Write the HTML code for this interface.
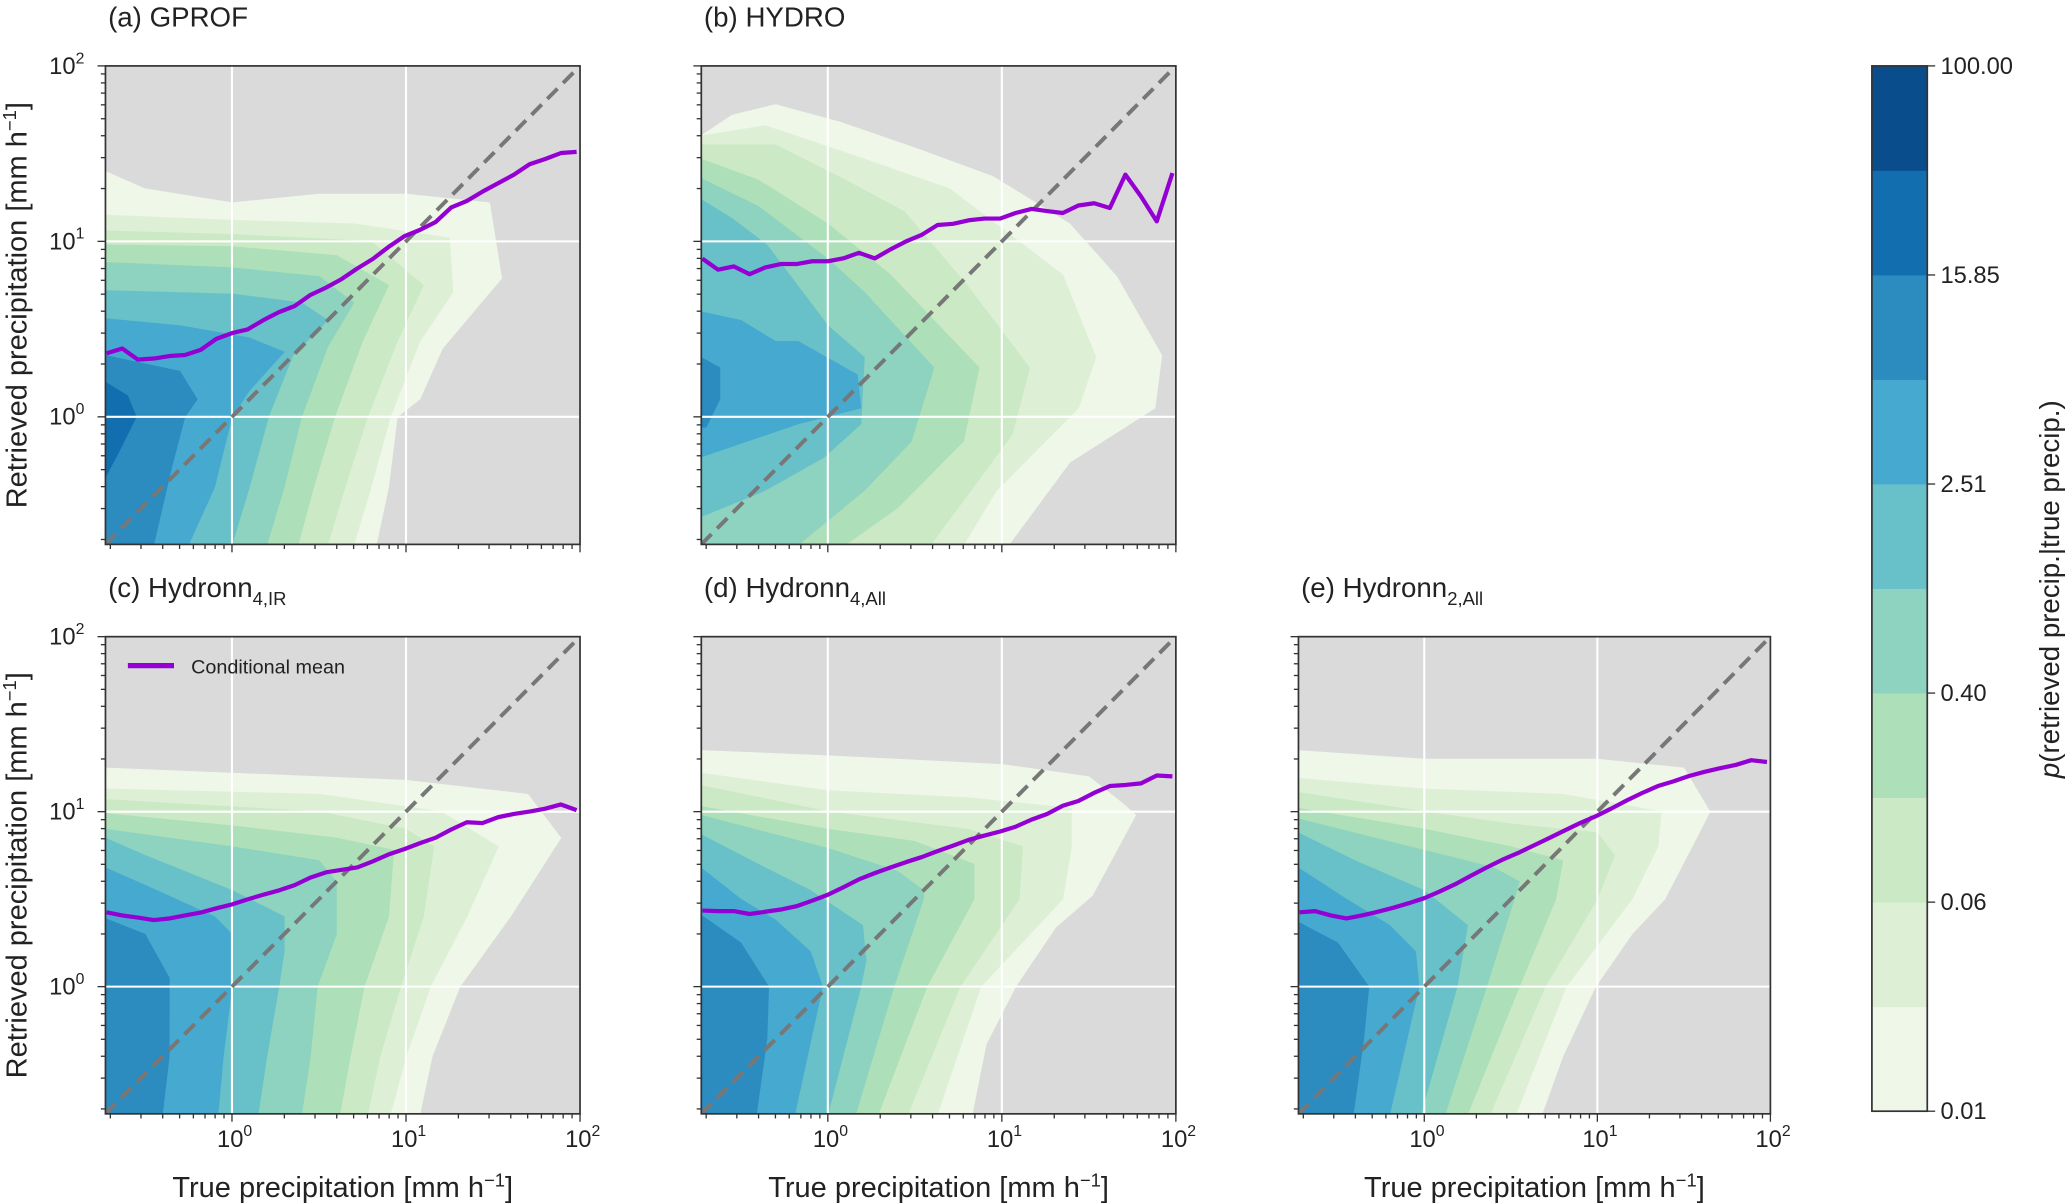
<!DOCTYPE html>
<html>
<head>
<meta charset="utf-8">
<style>
  html,body{margin:0;padding:0;background:#fff;}
  svg{display:block;}
  text{font-family:"Liberation Sans",sans-serif;fill:#222;}
</style>
</head>
<body>
<svg id="fig" xmlns="http://www.w3.org/2000/svg" width="2067" height="1204" viewBox="0 0 1568 913.4" preserveAspectRatio="none">
  <defs id="defs"></defs>
  <g id="panels"></g>
  <g id="colorbar"></g>
</svg>
<script>
// ---- data ----
const binX = [0.19,0.234,0.288,0.355,0.437,0.537,0.661,0.813,1.0,1.23,1.51,1.86,2.29,2.82,3.47,4.27,5.25,6.46,7.94,9.77,12.0,14.8,18.2,22.4,27.5,33.9,41.7,51.3,63.1,77.6,95.5];
const meanA = [2.30,2.45,2.12,2.15,2.22,2.25,2.41,2.78,3.0,3.15,3.55,3.95,4.28,4.95,5.45,6.1,7.0,7.95,9.3,10.7,11.6,12.9,15.6,17.0,19.2,21.5,24,27.5,29.5,31.9,32.4];
const meanB = [7.98,6.9,7.2,6.5,7.1,7.43,7.43,7.7,7.7,8.0,8.6,8.0,9.0,10,10.9,12.4,12.6,13.2,13.5,13.5,14.5,15.3,14.9,14.5,16,16.5,15.5,24,18,13,24.5];
const meanC = [2.66,2.55,2.48,2.4,2.45,2.55,2.65,2.8,2.95,3.15,3.35,3.55,3.8,4.2,4.5,4.65,4.8,5.2,5.7,6.1,6.6,7.1,7.9,8.7,8.6,9.3,9.7,10.0,10.4,11.0,10.2];
const meanD = [2.72,2.7,2.7,2.6,2.68,2.76,2.88,3.1,3.35,3.7,4.1,4.45,4.8,5.15,5.5,5.95,6.4,6.9,7.3,7.7,8.2,9.0,9.7,10.8,11.5,12.8,14.0,14.2,14.5,16.1,15.9];
const meanE = [2.66,2.7,2.55,2.45,2.55,2.68,2.82,3.0,3.2,3.5,3.85,4.3,4.8,5.3,5.8,6.4,7.05,7.8,8.6,9.4,10.4,11.6,12.8,14.0,14.9,16.0,16.9,17.7,18.5,19.7,19.2];

// contour level polygons, in log10(mm/h) units [log true, log retrieved], lightest level first
const contourA = [
 [[-0.73,1.4],[-0.5,1.3],[0,1.22],[0.5,1.27],[1.0,1.27],[1.48,1.22],[1.55,0.79],[1.21,0.39],[1.08,0.1],[0.95,0],[0.9,-0.4],[0.83,-0.73],[-0.73,-0.73]],
 [[-0.73,1.15],[0,1.12],[0.7,1.1],[1.25,1.02],[1.27,0.71],[1.08,0.43],[0.91,0],[0.8,-0.4],[0.7,-0.73],[-0.73,-0.73]],
 [[-0.73,1.06],[0,1.04],[0.8,1.0],[1.1,0.75],[0.95,0.43],[0.78,0],[0.65,-0.4],[0.55,-0.73],[-0.73,-0.73]],
 [[-0.73,0.98],[0,0.97],[0.6,0.92],[0.9,0.75],[0.75,0.43],[0.59,0],[0.47,-0.4],[0.38,-0.73],[-0.73,-0.73]],
 [[-0.73,0.88],[0,0.85],[0.5,0.8],[0.7,0.65],[0.55,0.4],[0.4,0],[0.3,-0.4],[0.2,-0.73],[-0.73,-0.73]],
 [[-0.73,0.72],[0,0.7],[0.4,0.65],[0.55,0.55],[0.35,0.35],[0.21,0],[0.1,-0.4],[0.0,-0.73],[-0.73,-0.73]],
 [[-0.73,0.56],[-0.3,0.52],[0.1,0.45],[0.3,0.37],[0.1,0.15],[0,0],[-0.1,-0.4],[-0.25,-0.73],[-0.73,-0.73]],
 [[-0.73,0.35],[-0.3,0.26],[-0.2,0.1],[-0.27,0],[-0.35,-0.3],[-0.45,-0.73],[-0.73,-0.73]],
 [[-0.73,0.2],[-0.6,0.12],[-0.55,0.0],[-0.65,-0.2],[-0.73,-0.35]]
];
const contourB = [
 [[-0.73,1.6],[-0.55,1.72],[-0.3,1.78],[0.07,1.68],[0.51,1.53],[0.95,1.37],[1.39,1.1],[1.66,0.8],[1.92,0.35],[1.88,0.05],[1.39,-0.26],[1.04,-0.73],[-0.73,-0.73]],
 [[-0.73,1.6],[-0.36,1.66],[0.21,1.47],[0.7,1.3],[1.35,0.81],[1.54,0.34],[1.44,0.05],[0.97,-0.42],[0.78,-0.73],[-0.73,-0.73]],
 [[-0.73,1.55],[-0.3,1.55],[0.1,1.35],[0.44,1.17],[0.8,0.75],[1.16,0.28],[1.06,-0.1],[0.8,-0.45],[0.59,-0.73],[-0.73,-0.73]],
 [[-0.73,1.47],[-0.4,1.35],[0,1.1],[0.36,0.81],[0.87,0.28],[0.78,-0.14],[0.4,-0.52],[0.1,-0.73],[-0.73,-0.73]],
 [[-0.73,1.36],[-0.4,1.2],[0,0.9],[0.21,0.71],[0.61,0.28],[0.48,-0.14],[0.21,-0.42],[-0.17,-0.73],[-0.73,-0.73]],
 [[-0.73,1.24],[-0.55,1.13],[-0.35,0.98],[0,0.52],[0.21,0.34],[0.19,-0.04],[-0.02,-0.23],[-0.36,-0.42],[-0.73,-0.57]],
 [[-0.73,0.6],[-0.5,0.55],[-0.3,0.43],[-0.17,0.43],[0.17,0.24],[0.19,0.05],[-0.17,-0.04],[-0.73,-0.23]],
 [[-0.73,0.34],[-0.62,0.28],[-0.62,0.1],[-0.7,-0.06],[-0.73,-0.06]]
];
const contourC = [
 [[-0.73,1.25],[0,1.22],[1.0,1.18],[1.7,1.1],[1.89,0.85],[1.6,0.4],[1.31,0],[1.15,-0.4],[1.08,-0.73],[-0.73,-0.73]],
 [[-0.73,1.13],[0.5,1.1],[1.2,1.0],[1.53,0.8],[1.35,0.4],[1.14,0],[1.0,-0.4],[0.91,-0.73],[-0.73,-0.73]],
 [[-0.73,1.07],[0.5,1.0],[1.0,0.9],[1.16,0.8],[1.1,0.4],[0.97,0],[0.85,-0.4],[0.78,-0.73],[-0.73,-0.73]],
 [[-0.73,0.99],[0,0.92],[0.6,0.85],[0.93,0.78],[0.9,0.4],[0.76,0],[0.68,-0.4],[0.62,-0.73],[-0.73,-0.73]],
 [[-0.73,0.9],[0,0.8],[0.5,0.72],[0.6,0.6],[0.6,0.3],[0.49,0],[0.45,-0.4],[0.4,-0.73],[-0.73,-0.73]],
 [[-0.73,0.85],[-0.5,0.75],[0,0.55],[0.3,0.4],[0.3,0.2],[0.27,0],[0.2,-0.4],[0.15,-0.73],[-0.73,-0.73]],
 [[-0.73,0.68],[-0.5,0.58],[-0.1,0.4],[0.0,0.3],[0,0],[-0.05,-0.4],[-0.08,-0.73],[-0.73,-0.73]],
 [[-0.73,0.39],[-0.5,0.3],[-0.36,0.05],[-0.36,-0.4],[-0.4,-0.73],[-0.73,-0.73]]
];
const contourD = [
 [[-0.73,1.35],[0,1.32],[1.0,1.27],[1.5,1.2],[1.69,1.05],[1.77,0.98],[1.52,0.52],[1.31,0.34],[1.08,0],[0.91,-0.33],[0.83,-0.73],[-0.73,-0.73]],
 [[-0.73,1.22],[0,1.12],[0.8,1.08],[1.4,1.02],[1.4,0.8],[1.35,0.5],[0.88,0],[0.63,-0.73],[-0.73,-0.73]],
 [[-0.73,1.15],[0,1.0],[0.8,0.9],[1.12,0.8],[1.1,0.5],[0.76,0],[0.46,-0.73],[-0.73,-0.73]],
 [[-0.73,1.03],[0,0.9],[0.5,0.83],[0.84,0.7],[0.84,0.5],[0.57,0],[0.29,-0.73],[-0.73,-0.73]],
 [[-0.73,0.98],[0,0.79],[0.4,0.66],[0.55,0.55],[0.55,0.5],[0.38,0],[0.16,-0.73],[-0.73,-0.73]],
 [[-0.73,0.87],[-0.4,0.7],[-0.1,0.55],[0.2,0.35],[0.22,0.15],[0.19,0],[0,-0.73],[-0.73,-0.73]],
 [[-0.73,0.68],[-0.5,0.5],[-0.3,0.38],[-0.1,0.2],[-0.03,0],[-0.19,-0.73],[-0.73,-0.73]],
 [[-0.73,0.41],[-0.5,0.25],[-0.34,0],[-0.35,-0.3],[-0.41,-0.73],[-0.73,-0.73]]
];
const contourE = [
 [[-0.73,1.35],[0,1.3],[1.0,1.3],[1.5,1.25],[1.65,1.0],[1.6,0.9],[1.39,0.5],[1.2,0.3],[0.99,0],[0.8,-0.4],[0.68,-0.73],[-0.73,-0.73]],
 [[-0.73,1.19],[0,1.13],[0.8,1.1],[1.37,1.0],[1.35,0.8],[1.2,0.5],[0.82,0],[0.53,-0.73],[-0.73,-0.73]],
 [[-0.73,1.11],[0,1.0],[0.5,0.93],[1.0,0.88],[1.1,0.75],[1.0,0.5],[0.7,0],[0.38,-0.73],[-0.73,-0.73]],
 [[-0.73,1.02],[0,0.9],[0.5,0.8],[0.8,0.72],[0.76,0.5],[0.55,0],[0.25,-0.73],[-0.73,-0.73]],
 [[-0.73,0.96],[0,0.78],[0.4,0.68],[0.55,0.6],[0.52,0.5],[0.36,0],[0.12,-0.73],[-0.73,-0.73]],
 [[-0.73,0.88],[-0.4,0.72],[0,0.55],[0.25,0.35],[0.19,0],[-0.02,-0.73],[-0.73,-0.73]],
 [[-0.73,0.68],[-0.45,0.5],[-0.2,0.35],[-0.05,0.2],[-0.03,0],[-0.2,-0.73],[-0.73,-0.73]],
 [[-0.73,0.37],[-0.5,0.25],[-0.32,0],[-0.35,-0.3],[-0.41,-0.73],[-0.73,-0.73]]
];
const cbarTicks = ["0.01","0.06","0.40","2.51","15.85","100.00"];
const majorTicks = [1,10,100];
const tickExp = ["0","1","2"];

// ---- style ----
const levelColors = ["#eef7e8","#ddf0d6","#cbe9c5","#addfb8","#8dd3bf","#68c0c9","#46a9cf","#2c8bbf","#136eaf","#0a4d8d"];
const NS = "http://www.w3.org/2000/svg";
const U0 = -0.727, U1 = 2;

const panels = [
 {key:"a", x0:80,  y0:50,  w:360, h:363, title:"(a) GPROF", sub:"", contours:contourA, mean:meanA, ylab:true, xlab:false},
 {key:"b", x0:532, y0:50,  w:360, h:363, title:"(b) HYDRO", sub:"", contours:contourB, mean:meanB, ylab:false, xlab:false},
 {key:"c", x0:80,  y0:483, w:360, h:362, title:"(c) Hydronn", sub:"4,IR", contours:contourC, mean:meanC, ylab:true, xlab:true, legend:true},
 {key:"d", x0:532, y0:483, w:360, h:362, title:"(d) Hydronn", sub:"4,All", contours:contourD, mean:meanD, ylab:false, xlab:true},
 {key:"e", x0:985, y0:483, w:358, h:362, title:"(e) Hydronn", sub:"2,All", contours:contourE, mean:meanE, ylab:false, xlab:true}
];

function xScale(p, v){ return p.x0 + (Math.log10(v) - U0) / (U1 - U0) * p.w; }
function yScale(p, v){ return p.y0 + p.h - (Math.log10(v) - U0) / (U1 - U0) * p.h; }
function el(tag, attrs, parent){
  const e = document.createElementNS(NS, tag);
  for (const k in attrs) e.setAttribute(k, attrs[k]);
  if (parent) parent.appendChild(e);
  return e;
}

const root = document.getElementById("panels");
const defs = document.getElementById("defs");

panels.forEach(p => {
  const g = el("g", {}, root);
  
  

  const cp = el("clipPath", {id:"clip-" + p.key}, defs);
  el("rect", {x:p.x0, y:p.y0, width:p.w, height:p.h}, cp);

  const bg = el("rect", {x:p.x0, y:p.y0, width:p.w, height:p.h, fill:"#dadada"}, g);
  
  

  const cg = el("g", {"clip-path":"url(#clip-" + p.key + ")"}, g);
  
  
  p.contours.forEach((poly, i) => {
    const pts = poly.map(q => xScale(p, Math.pow(10, q[0])).toFixed(1) + "," + yScale(p, Math.pow(10, q[1])).toFixed(1)).join(" ");
    const pg = el("polygon", {points:pts, fill:levelColors[i], "stroke":levelColors[i], "stroke-width":0.5, "stroke-linejoin":"round"}, cg);
    
    
  });

  // grid
  [1, 10].forEach(v => {
    const gx = el("line", {x1:xScale(p, v), x2:xScale(p, v), y1:p.y0, y2:p.y0 + p.h, stroke:"#fff", "stroke-width":1.6}, g);
    
    
    const gy = el("line", {x1:p.x0, x2:p.x0 + p.w, y1:yScale(p, v), y2:yScale(p, v), stroke:"#fff", "stroke-width":1.6}, g);
    
    
  });

  // 1:1 line
  const lo = Math.pow(10, U0);
  const diag = el("line", {x1:xScale(p, lo), y1:yScale(p, lo), x2:xScale(p, 100), y2:yScale(p, 100), stroke:"#777", "stroke-width":3, "stroke-dasharray":"11,6", "clip-path":"url(#clip-" + p.key + ")"}, g);
  
  

  // conditional mean
  const mpts = p.mean.map((v, i) => xScale(p, binX[i]).toFixed(1) + "," + yScale(p, v).toFixed(1)).join(" ");
  const ml = el("polyline", {points:mpts, fill:"none", stroke:"#9400d3", "stroke-width":3.2, "stroke-linejoin":"round"}, g);
  
  

  // frame
  const fr = el("rect", {x:p.x0, y:p.y0, width:p.w, height:p.h, fill:"none", stroke:"#333", "stroke-width":1.3}, g);
  
  

  // ticks
  const tg = el("g", {stroke:"#333", "stroke-width":1}, g);
  
  
  [0.1, 1, 10].forEach(dec => {
    for (let m = 1; m <= 9; m++) {
      const v = dec * m;
      if (v < lo || v > 100.001) continue;
      const len = m === 1 ? 6 : 3.5;
      const xx = xScale(p, v), yy = yScale(p, v);
      el("line", {x1:xx, x2:xx, y1:p.y0 + p.h, y2:p.y0 + p.h + len}, tg);
      el("line", {x1:p.x0, x2:p.x0 - len, y1:yy, y2:yy}, tg);
    }
  });
  el("line", {x1:xScale(p, 100), x2:xScale(p, 100), y1:p.y0 + p.h, y2:p.y0 + p.h + 6}, tg);
  el("line", {x1:p.x0, x2:p.x0 - 6, y1:yScale(p, 100), y2:yScale(p, 100)}, tg);

  // tick labels
  if (p.ylab) {
    majorTicks.forEach((v, i) => {
      const t = el("text", {x:p.x0 - 16, y:yScale(p, v) + 6, "text-anchor":"end", "font-size":18}, g);
      
      
      t.textContent = "10";
      const s = el("tspan", {dy:-8, "font-size":12}, t);
      s.textContent = tickExp[i];
    });
    const yl = el("text", {x:0, y:0, "text-anchor":"middle", "font-size":22, transform:"translate(20," + (p.y0 + p.h / 2) + ") rotate(-90)"}, g);
    
    
    yl.textContent = "Retrieved precipitation [mm h";
    const ys = el("tspan", {dy:-8, "font-size":14}, yl); ys.textContent = "−1";
    const ye = el("tspan", {dy:8}, yl); ye.textContent = "]";
  }
  if (p.xlab) {
    majorTicks.forEach((v, i) => {
      const t = el("text", {x:xScale(p, v) + 2, y:p.y0 + p.h + 25, "text-anchor":"middle", "font-size":18}, g);
      
      
      t.textContent = "10";
      const s = el("tspan", {dy:-8, "font-size":12}, t);
      s.textContent = tickExp[i];
    });
    const xl = el("text", {x:p.x0 + p.w / 2, y:p.y0 + p.h + 63, "text-anchor":"middle", "font-size":22}, g);
    
    
    xl.textContent = "True precipitation [mm h";
    const xs = el("tspan", {dy:-8, "font-size":14}, xl); xs.textContent = "−1";
    const xe = el("tspan", {dy:8}, xl); xe.textContent = "]";
  }

  // title
  const tt = el("text", {x:p.x0 + 2, y:p.y0 - 30, "font-size":21}, g);
  
  
  tt.textContent = p.title;
  if (p.sub) { const ts = el("tspan", {dy:6, "font-size":14}, tt); ts.textContent = p.sub; }

  if (p.legend) {
    const lg = el("g", {}, g);
    
    
    const ll = el("line", {x1:p.x0 + 17, x2:p.x0 + 52, y1:p.y0 + 22, y2:p.y0 + 22, stroke:"#9400d3", "stroke-width":4}, lg);
    
    
    const lt = el("text", {x:p.x0 + 65, y:p.y0 + 28, "font-size":15}, lg);
    
    
    lt.textContent = "Conditional mean";
  }
});

// ---- colorbar ----
const cb = document.getElementById("colorbar");
const cbX = 1420, cbW = 42, cbTop = 50, cbBot = 843;
const bandH = (cbBot - cbTop) / levelColors.length;
levelColors.forEach((c, i) => {
  const r = el("rect", {x:cbX, y:cbBot - (i + 1) * bandH, width:cbW, height:bandH + 0.3, fill:c}, cb);
  
  
});
const cbf = el("rect", {x:cbX, y:cbTop, width:cbW, height:cbBot - cbTop, fill:"none", stroke:"#333", "stroke-width":1.3}, cb);


cbarTicks.forEach((lab, i) => {
  const y = cbBot - i * 2 * bandH;
  el("line", {x1:cbX + cbW, x2:cbX + cbW + 6, y1:y, y2:y, stroke:"#333", "stroke-width":1}, cb);
  const t = el("text", {x:cbX + cbW + 10, y:y + 6, "font-size":18, fill:"#333"}, cb);
  
  
  t.textContent = lab;
});
const ct = el("text", {x:0, y:0, "text-anchor":"middle", "font-size":21, transform:"translate(1562,447) rotate(-90)"}, cb);


const cti = el("tspan", {"font-style":"italic"}, ct); cti.textContent = "p";
const ctr = el("tspan", {}, ct); ctr.textContent = "(retrieved precip.|true precip.)";
</script>
</body>
</html>
